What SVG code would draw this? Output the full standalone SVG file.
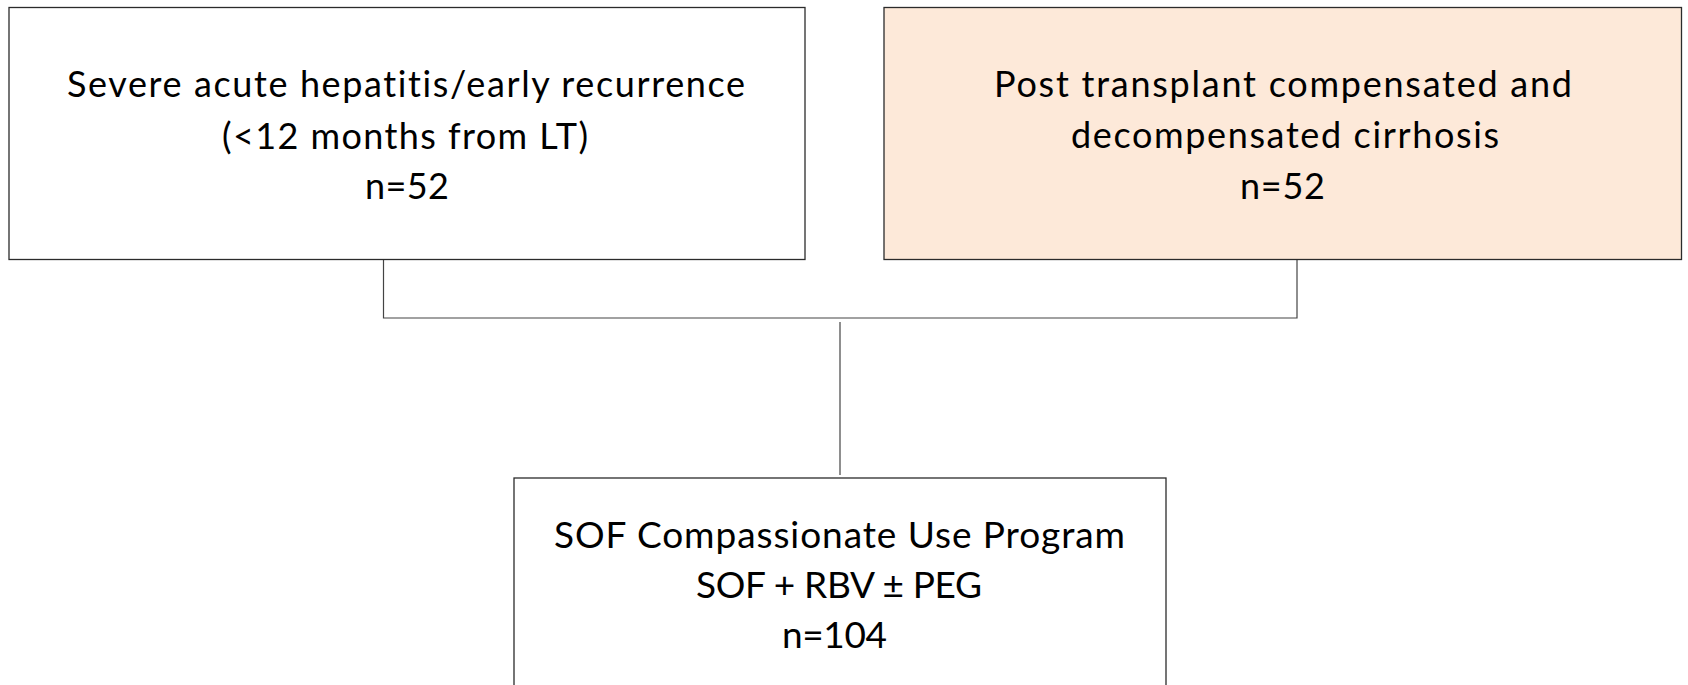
<svg xmlns="http://www.w3.org/2000/svg" width="1688" height="685" viewBox="0 0 1688 685">
<style>
.box{stroke:#2b2b2b;stroke-width:1.3}
.t{font-family:Lato,"Liberation Sans",sans-serif;font-weight:400;font-size:36px;fill:#000;text-anchor:middle;font-variant-ligatures:none}
.b{font-size:37px}
.c{stroke:#444;stroke-width:1.2;fill:none}
</style>
<rect width="1688" height="685" fill="#fff"/>
<g id="connectors">
<polyline class="c" points="383.5,259.5 383.5,318 1297,318 1297,259.5"/>
<line class="c" x1="840" y1="322" x2="840" y2="475"/>
</g>
<g id="node-acute">
<rect class="box" x="9" y="7.5" width="796" height="252" fill="#fff"/>
<text class="t" x="406" y="97" textLength="678" lengthAdjust="spacing">Severe acute hepatitis/early recurrence</text>
<text class="t" x="405" y="149" textLength="366" lengthAdjust="spacing">(&lt;12 months from LT)</text>
<text class="t" x="407" y="199" textLength="84" lengthAdjust="spacing">n=52</text>
</g>
<g id="node-cirrhosis">
<rect class="box" x="884" y="7.5" width="797.5" height="252" fill="#FDE9D9"/>
<text class="t" x="1283" y="97" textLength="578" lengthAdjust="spacing">Post transplant compensated and</text>
<text class="t" x="1285" y="148" textLength="428" lengthAdjust="spacing">decompensated cirrhosis</text>
<text class="t" x="1282.5" y="199" textLength="85" lengthAdjust="spacing">n=52</text>
</g>
<g id="node-program">
<rect class="box" x="514" y="478" width="652" height="230" fill="#fff"/>
<text class="t b" x="839.5" y="548" textLength="571" lengthAdjust="spacing">SOF Compassionate Use Program</text>
<text class="t b" x="839" y="598" textLength="286" lengthAdjust="spacing">SOF + RBV ± PEG</text>
<text class="t b" x="834.5" y="648" textLength="105" lengthAdjust="spacing">n=104</text>
</g>
</svg>
